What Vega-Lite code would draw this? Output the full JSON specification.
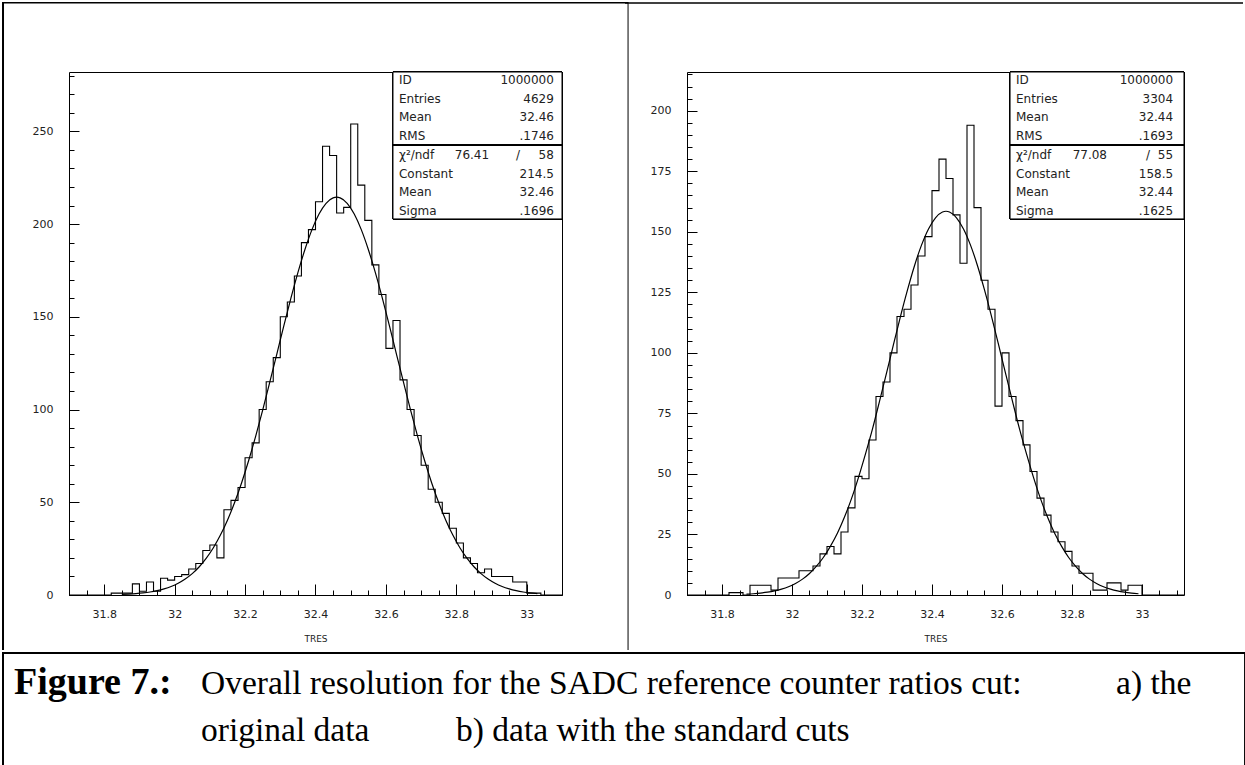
{
  "$schema": "https://vega.github.io/schema/vega-lite/v6.json",
  "background": "white",
  "padding": {"left": 1, "top": 0, "right": 0, "bottom": 0},
  "autosize": {"type": "pad"},
  "datasets": {
    "left": [
      {"x": 31.70, "n": 0}, {"x": 31.80, "n": 0}, {"x": 31.82, "n": 1}, {"x": 31.84, "n": 1}, {"x": 31.86, "n": 1},
      {"x": 31.88, "n": 6}, {"x": 31.90, "n": 2}, {"x": 31.92, "n": 7}, {"x": 31.94, "n": 2}, {"x": 31.96, "n": 9},
      {"x": 31.98, "n": 8}, {"x": 32.00, "n": 10}, {"x": 32.02, "n": 11}, {"x": 32.04, "n": 14}, {"x": 32.06, "n": 17},
      {"x": 32.08, "n": 24}, {"x": 32.10, "n": 27}, {"x": 32.12, "n": 20}, {"x": 32.14, "n": 46}, {"x": 32.16, "n": 51},
      {"x": 32.18, "n": 58}, {"x": 32.20, "n": 74}, {"x": 32.22, "n": 82}, {"x": 32.24, "n": 100}, {"x": 32.26, "n": 115},
      {"x": 32.28, "n": 128}, {"x": 32.30, "n": 150}, {"x": 32.32, "n": 158}, {"x": 32.34, "n": 172}, {"x": 32.36, "n": 190},
      {"x": 32.38, "n": 197}, {"x": 32.40, "n": 212}, {"x": 32.42, "n": 242}, {"x": 32.44, "n": 237}, {"x": 32.46, "n": 206},
      {"x": 32.48, "n": 209}, {"x": 32.50, "n": 254}, {"x": 32.52, "n": 221}, {"x": 32.54, "n": 202}, {"x": 32.56, "n": 178},
      {"x": 32.58, "n": 162}, {"x": 32.60, "n": 133}, {"x": 32.62, "n": 148}, {"x": 32.64, "n": 116}, {"x": 32.66, "n": 100},
      {"x": 32.68, "n": 86}, {"x": 32.70, "n": 70}, {"x": 32.72, "n": 57}, {"x": 32.74, "n": 50}, {"x": 32.76, "n": 44},
      {"x": 32.78, "n": 36}, {"x": 32.80, "n": 28}, {"x": 32.82, "n": 20}, {"x": 32.84, "n": 17}, {"x": 32.86, "n": 12},
      {"x": 32.88, "n": 14}, {"x": 32.90, "n": 10}, {"x": 32.92, "n": 10}, {"x": 32.94, "n": 10}, {"x": 32.96, "n": 7},
      {"x": 32.98, "n": 7}, {"x": 33.00, "n": 1}, {"x": 33.02, "n": 1}, {"x": 33.04, "n": 0}, {"x": 33.10, "n": 0}
    ],
    "right": [
      {"x": 31.70, "n": 0}, {"x": 31.82, "n": 1}, {"x": 31.84, "n": 1}, {"x": 31.86, "n": 0}, {"x": 31.88, "n": 4},
      {"x": 31.90, "n": 4}, {"x": 31.92, "n": 4}, {"x": 31.94, "n": 2}, {"x": 31.96, "n": 7}, {"x": 31.98, "n": 7},
      {"x": 32.00, "n": 7}, {"x": 32.02, "n": 10}, {"x": 32.04, "n": 10}, {"x": 32.06, "n": 12}, {"x": 32.08, "n": 17},
      {"x": 32.10, "n": 20}, {"x": 32.12, "n": 17}, {"x": 32.14, "n": 26}, {"x": 32.16, "n": 36}, {"x": 32.18, "n": 49},
      {"x": 32.20, "n": 48}, {"x": 32.22, "n": 64}, {"x": 32.24, "n": 82}, {"x": 32.26, "n": 88}, {"x": 32.28, "n": 100},
      {"x": 32.30, "n": 115}, {"x": 32.32, "n": 118}, {"x": 32.34, "n": 128}, {"x": 32.36, "n": 140}, {"x": 32.38, "n": 148},
      {"x": 32.40, "n": 167}, {"x": 32.42, "n": 180}, {"x": 32.44, "n": 172}, {"x": 32.46, "n": 157}, {"x": 32.48, "n": 137},
      {"x": 32.50, "n": 194}, {"x": 32.52, "n": 160}, {"x": 32.54, "n": 130}, {"x": 32.56, "n": 118}, {"x": 32.58, "n": 78},
      {"x": 32.60, "n": 100}, {"x": 32.62, "n": 82}, {"x": 32.64, "n": 72}, {"x": 32.66, "n": 62}, {"x": 32.68, "n": 51},
      {"x": 32.70, "n": 40}, {"x": 32.72, "n": 33}, {"x": 32.74, "n": 26}, {"x": 32.76, "n": 22}, {"x": 32.78, "n": 18},
      {"x": 32.80, "n": 12}, {"x": 32.82, "n": 9}, {"x": 32.84, "n": 9}, {"x": 32.86, "n": 2}, {"x": 32.88, "n": 2},
      {"x": 32.90, "n": 5}, {"x": 32.92, "n": 5}, {"x": 32.94, "n": 2}, {"x": 32.96, "n": 4}, {"x": 32.98, "n": 4},
      {"x": 33.00, "n": 0}, {"x": 33.12, "n": 0}
    ],
    "leftfit": [
      {"x": 31.85, "f": 0.33}, {"x": 31.87, "f": 0.51}, {"x": 31.89, "f": 0.76}, {"x": 31.91, "f": 1.12}, {"x": 31.93, "f": 1.62},
      {"x": 31.95, "f": 2.33}, {"x": 31.97, "f": 3.31}, {"x": 31.99, "f": 4.61}, {"x": 32.01, "f": 6.35}, {"x": 32.03, "f": 8.62},
      {"x": 32.05, "f": 11.55}, {"x": 32.07, "f": 15.24}, {"x": 32.09, "f": 19.85}, {"x": 32.11, "f": 25.49}, {"x": 32.13, "f": 32.3},
      {"x": 32.15, "f": 40.35}, {"x": 32.17, "f": 49.72}, {"x": 32.19, "f": 60.42}, {"x": 32.21, "f": 72.4}, {"x": 32.23, "f": 85.56},
      {"x": 32.25, "f": 99.7}, {"x": 32.27, "f": 114.6}, {"x": 32.29, "f": 129.8}, {"x": 32.31, "f": 145.1}, {"x": 32.33, "f": 159.9},
      {"x": 32.35, "f": 173.8}, {"x": 32.37, "f": 186.3}, {"x": 32.39, "f": 197.0}, {"x": 32.41, "f": 205.4}, {"x": 32.43, "f": 211.2},
      {"x": 32.45, "f": 214.1}, {"x": 32.46, "f": 214.5}, {"x": 32.47, "f": 214.1}, {"x": 32.49, "f": 211.2}, {"x": 32.51, "f": 205.4},
      {"x": 32.53, "f": 197.0}, {"x": 32.55, "f": 186.3}, {"x": 32.57, "f": 173.8}, {"x": 32.59, "f": 159.9}, {"x": 32.61, "f": 145.1},
      {"x": 32.63, "f": 129.8}, {"x": 32.65, "f": 114.6}, {"x": 32.67, "f": 99.7}, {"x": 32.69, "f": 85.56}, {"x": 32.71, "f": 72.4},
      {"x": 32.73, "f": 60.42}, {"x": 32.75, "f": 49.72}, {"x": 32.77, "f": 40.35}, {"x": 32.79, "f": 32.3}, {"x": 32.81, "f": 25.49},
      {"x": 32.83, "f": 19.85}, {"x": 32.85, "f": 15.24}, {"x": 32.87, "f": 11.55}, {"x": 32.89, "f": 8.62}, {"x": 32.91, "f": 6.35},
      {"x": 32.93, "f": 4.61}, {"x": 32.95, "f": 3.31}, {"x": 32.97, "f": 2.33}, {"x": 32.99, "f": 1.62}, {"x": 33.01, "f": 1.12},
      {"x": 33.03, "f": 0.76}
    ],
    "rightfit": [
      {"x": 31.87, "f": 0.34}, {"x": 31.89, "f": 0.52}, {"x": 31.91, "f": 0.78}, {"x": 31.93, "f": 1.15}, {"x": 31.95, "f": 1.68},
      {"x": 31.97, "f": 2.42}, {"x": 31.99, "f": 3.42}, {"x": 32.01, "f": 4.78}, {"x": 32.03, "f": 6.56}, {"x": 32.05, "f": 8.9},
      {"x": 32.07, "f": 11.9}, {"x": 32.09, "f": 15.6}, {"x": 32.11, "f": 20.2}, {"x": 32.13, "f": 25.6}, {"x": 32.15, "f": 32.2},
      {"x": 32.17, "f": 39.8}, {"x": 32.19, "f": 48.6}, {"x": 32.21, "f": 58.3}, {"x": 32.23, "f": 68.6}, {"x": 32.25, "f": 80.0},
      {"x": 32.27, "f": 91.6}, {"x": 32.29, "f": 103.5}, {"x": 32.31, "f": 115.1}, {"x": 32.33, "f": 126.0}, {"x": 32.35, "f": 136.0},
      {"x": 32.37, "f": 144.5}, {"x": 32.39, "f": 151.2}, {"x": 32.41, "f": 155.8}, {"x": 32.43, "f": 158.2}, {"x": 32.44, "f": 158.5},
      {"x": 32.45, "f": 158.2}, {"x": 32.47, "f": 155.8}, {"x": 32.49, "f": 151.2}, {"x": 32.51, "f": 144.5}, {"x": 32.53, "f": 136.0},
      {"x": 32.55, "f": 126.0}, {"x": 32.57, "f": 115.1}, {"x": 32.59, "f": 103.5}, {"x": 32.61, "f": 91.6}, {"x": 32.63, "f": 80.0},
      {"x": 32.65, "f": 68.6}, {"x": 32.67, "f": 58.3}, {"x": 32.69, "f": 48.6}, {"x": 32.71, "f": 39.8}, {"x": 32.73, "f": 32.2},
      {"x": 32.75, "f": 25.6}, {"x": 32.77, "f": 20.2}, {"x": 32.79, "f": 15.6}, {"x": 32.81, "f": 11.9}, {"x": 32.83, "f": 8.9},
      {"x": 32.85, "f": 6.56}, {"x": 32.87, "f": 4.78}, {"x": 32.89, "f": 3.42}, {"x": 32.91, "f": 2.42}, {"x": 32.93, "f": 1.68},
      {"x": 32.95, "f": 1.15}, {"x": 32.97, "f": 0.78}, {"x": 32.99, "f": 0.52}
    ],
    "leftstats": [
      {"row": 0, "label": "ID", "value": "1000000"},
      {"row": 1, "label": "Entries", "value": "4629"},
      {"row": 2, "label": "Mean", "value": "32.46"},
      {"row": 3, "label": "RMS", "value": ".1746"},
      {"row": 4, "label": "χ²/ndf", "value": "58"},
      {"row": 5, "label": "Constant", "value": "214.5"},
      {"row": 6, "label": "Mean", "value": "32.46"},
      {"row": 7, "label": "Sigma", "value": ".1696"}
    ],
    "rightstats": [
      {"row": 0, "label": "ID", "value": "1000000"},
      {"row": 1, "label": "Entries", "value": "3304"},
      {"row": 2, "label": "Mean", "value": "32.44"},
      {"row": 3, "label": "RMS", "value": ".1693"},
      {"row": 4, "label": "χ²/ndf", "value": "55"},
      {"row": 5, "label": "Constant", "value": "158.5"},
      {"row": 6, "label": "Mean", "value": "32.44"},
      {"row": 7, "label": "Sigma", "value": ".1625"}
    ]
  },
  "spacing": 0,
  "vconcat": [
    {
      "spacing": -7,
      "hconcat": [
        {
          "width": 493,
          "height": 523,
          "layer": [
            {
              "data": {"name": "left"},
              "mark": {"type": "line", "interpolate": "step-after", "color": "black", "strokeWidth": 1.1},
              "encoding": {
                "x": {"field": "x", "type": "quantitative", "scale": {"domain": [31.7, 33.1], "nice": false, "zero": false},
                  "axis": {"orient": "bottom", "values": [31.8, 32, 32.2, 32.4, 32.6, 32.8, 33], "tickSize": -11, "labelPadding": 24, "labelExpr": "'' + datum.value", "title": "TRES", "titleFontSize": 9, "titlePadding": 13, "minExtent": 26, "maxExtent": 26}},
                "y": {"field": "n", "type": "quantitative", "scale": {"domain": [0, 282], "nice": false},
                  "axis": {"orient": "left", "values": [0, 50, 100, 150, 200, 250], "tickSize": -10, "labelPadding": 26, "title": null, "minExtent": 66, "maxExtent": 66}}
              }
            },
            {
              "data": {"name": "leftfit"},
              "mark": {"type": "line", "interpolate": "monotone", "color": "black", "strokeWidth": 1.2},
              "encoding": {
                "x": {"field": "x", "type": "quantitative",
                  "axis": {"orient": "bottom", "values": [31.7, 31.75, 31.8, 31.85, 31.9, 31.95, 32, 32.05, 32.1, 32.15, 32.2, 32.25, 32.3, 32.35, 32.4, 32.45, 32.5, 32.55, 32.6, 32.65, 32.7, 32.75, 32.8, 32.85, 32.9, 32.95, 33, 33.05, 33.1], "tickSize": -5, "labels": false, "title": null}},
                "y": {"field": "f", "type": "quantitative", "scale": {"domain": [0, 282], "nice": false},
                  "axis": {"orient": "left", "values": [0, 10, 20, 30, 40, 50, 60, 70, 80, 90, 100, 110, 120, 130, 140, 150, 160, 170, 180, 190, 200, 210, 220, 230, 240, 250, 260, 270, 280], "tickSize": -5, "labels": false, "title": null}}
              }
            },
            {
              "data": {"values": [{}]},
              "layer": [
                {
                  "mark": {"type": "rule", "color": "black", "strokeWidth": 2},
                  "encoding": {
                    "x": {"datum": 31.5126, "type": "quantitative", "axis": null},
                    "y": {"datum": -29.66, "type": "quantitative", "scale": {"domain": [0, 282], "nice": false, "zero": false}, "axis": null},
                    "y2": {"datum": 319.7}
                  }
                },
                {
                  "mark": {"type": "rule", "color": "black", "strokeWidth": 1},
                  "encoding": {
                    "x": {"datum": 33.2876, "type": "quantitative", "axis": null},
                    "y": {"datum": -29.66, "type": "quantitative", "axis": null},
                    "y2": {"datum": 319.7}
                  }
                },
                {
                  "mark": {"type": "rule", "color": "black", "strokeWidth": 1.5},
                  "encoding": {
                    "x": {"datum": 31.5126, "type": "quantitative", "axis": null},
                    "x2": {"datum": 33.2876},
                    "y": {"datum": 319.4, "type": "quantitative", "axis": null}
                  }
                }
              ]
            },
            {
              "data": {"name": "leftstats"},
              "layer": [
                {
                  "mark": {"type": "rect", "fill": "white", "stroke": "black", "strokeWidth": 1},
                  "encoding": {
                    "x": {"datum": 32.62, "type": "quantitative", "axis": null},
                    "x2": {"datum": 33.1},
                    "y": {"datum": -0.428, "type": "quantitative", "axis": null},
                    "y2": {"datum": 7.43}
                  }
                },
                {
                  "mark": {"type": "rule", "color": "black", "strokeWidth": 1},
                  "encoding": {
                    "x": {"datum": 32.62, "type": "quantitative", "axis": null},
                    "x2": {"datum": 33.1},
                    "y": {"datum": 3.48, "type": "quantitative", "axis": null}
                  }
                },
                {
                  "mark": {"type": "text", "align": "left", "baseline": "middle", "font": "DejaVu Sans", "fontSize": 12, "color": "#222"},
                  "encoding": {
                    "x": {"datum": 32.637, "type": "quantitative", "axis": null},
                    "y": {"field": "row", "type": "quantitative", "scale": {"domain": [-0.428, 27.54], "reverse": true, "nice": false, "zero": false}, "axis": null},
                    "text": {"field": "label"}
                  }
                },
                {
                  "mark": {"type": "text", "align": "right", "baseline": "middle", "font": "DejaVu Sans", "fontSize": 12, "color": "#222"},
                  "encoding": {
                    "x": {"datum": 33.077, "type": "quantitative", "axis": null},
                    "y": {"field": "row", "type": "quantitative", "axis": null},
                    "text": {"field": "value"}
                  }
                },
                {
                  "transform": [{"filter": "datum.row == 4"}],
                  "mark": {"type": "text", "align": "right", "baseline": "middle", "font": "DejaVu Sans", "fontSize": 12, "color": "#222"},
                  "encoding": {
                    "x": {"datum": 32.893, "type": "quantitative", "axis": null},
                    "y": {"field": "row", "type": "quantitative", "axis": null},
                    "text": {"value": "76.41"}
                  }
                },
                {
                  "transform": [{"filter": "datum.row == 4"}],
                  "mark": {"type": "text", "align": "center", "baseline": "middle", "font": "DejaVu Sans", "fontSize": 12, "color": "#222"},
                  "encoding": {
                    "x": {"datum": 32.975, "type": "quantitative", "axis": null},
                    "y": {"field": "row", "type": "quantitative", "axis": null},
                    "text": {"value": "/"}
                  }
                }
              ]
            }
          ],
          "resolve": {"scale": {"y": "independent"}, "axis": {"x": "independent", "y": "independent"}}
        },
        {
          "width": 497,
          "height": 523,
          "layer": [
            {
              "data": {"name": "right"},
              "mark": {"type": "line", "interpolate": "step-after", "color": "black", "strokeWidth": 1.1},
              "encoding": {
                "x": {"field": "x", "type": "quantitative", "scale": {"domain": [31.7, 33.12], "nice": false, "zero": false},
                  "axis": {"orient": "bottom", "values": [31.8, 32, 32.2, 32.4, 32.6, 32.8, 33], "tickSize": -11, "labelPadding": 24, "labelExpr": "'' + datum.value", "title": "TRES", "titleFontSize": 9, "titlePadding": 13, "minExtent": 26, "maxExtent": 26}},
                "y": {"field": "n", "type": "quantitative", "scale": {"domain": [0, 216], "nice": false},
                  "axis": {"orient": "left", "values": [0, 25, 50, 75, 100, 125, 150, 175, 200], "tickSize": -10, "labelPadding": 26, "title": null, "minExtent": 40, "maxExtent": 40}}
              }
            },
            {
              "data": {"name": "rightfit"},
              "mark": {"type": "line", "interpolate": "monotone", "color": "black", "strokeWidth": 1.2},
              "encoding": {
                "x": {"field": "x", "type": "quantitative",
                  "axis": {"orient": "bottom", "values": [31.7, 31.75, 31.8, 31.85, 31.9, 31.95, 32, 32.05, 32.1, 32.15, 32.2, 32.25, 32.3, 32.35, 32.4, 32.45, 32.5, 32.55, 32.6, 32.65, 32.7, 32.75, 32.8, 32.85, 32.9, 32.95, 33, 33.05, 33.1], "tickSize": -5, "labels": false, "title": null}},
                "y": {"field": "f", "type": "quantitative", "scale": {"domain": [0, 216], "nice": false},
                  "axis": {"orient": "left", "values": [0, 5, 10, 15, 20, 25, 30, 35, 40, 45, 50, 55, 60, 65, 70, 75, 80, 85, 90, 95, 100, 105, 110, 115, 120, 125, 130, 135, 140, 145, 150, 155, 160, 165, 170, 175, 180, 185, 190, 195, 200, 205, 210, 215], "tickSize": -5, "labels": false, "title": null}}
              }
            },
            {
              "data": {"values": [{}]},
              "mark": {"type": "rule", "color": "black", "strokeWidth": 1.5},
              "encoding": {
                "x": {"datum": 31.5229, "type": "quantitative", "axis": null},
                "x2": {"datum": 33.2886},
                "y": {"datum": 244.5, "type": "quantitative", "scale": {"domain": [0, 216], "nice": false, "zero": false}, "axis": null}
              }
            },
            {
              "data": {"name": "rightstats"},
              "layer": [
                {
                  "mark": {"type": "rect", "fill": "white", "stroke": "black", "strokeWidth": 1},
                  "encoding": {
                    "x": {"datum": 32.623, "type": "quantitative", "axis": null},
                    "x2": {"datum": 33.12},
                    "y": {"datum": -0.428, "type": "quantitative", "axis": null},
                    "y2": {"datum": 7.43}
                  }
                },
                {
                  "mark": {"type": "rule", "color": "black", "strokeWidth": 1},
                  "encoding": {
                    "x": {"datum": 32.623, "type": "quantitative", "axis": null},
                    "x2": {"datum": 33.12},
                    "y": {"datum": 3.48, "type": "quantitative", "axis": null}
                  }
                },
                {
                  "mark": {"type": "text", "align": "left", "baseline": "middle", "font": "DejaVu Sans", "fontSize": 12, "color": "#222"},
                  "encoding": {
                    "x": {"datum": 32.64, "type": "quantitative", "axis": null},
                    "y": {"field": "row", "type": "quantitative", "scale": {"domain": [-0.428, 27.54], "reverse": true, "nice": false, "zero": false}, "axis": null},
                    "text": {"field": "label"}
                  }
                },
                {
                  "mark": {"type": "text", "align": "right", "baseline": "middle", "font": "DejaVu Sans", "fontSize": 12, "color": "#222"},
                  "encoding": {
                    "x": {"datum": 33.089, "type": "quantitative", "axis": null},
                    "y": {"field": "row", "type": "quantitative", "axis": null},
                    "text": {"field": "value"}
                  }
                },
                {
                  "transform": [{"filter": "datum.row == 4"}],
                  "mark": {"type": "text", "align": "right", "baseline": "middle", "font": "DejaVu Sans", "fontSize": 12, "color": "#222"},
                  "encoding": {
                    "x": {"datum": 32.9, "type": "quantitative", "axis": null},
                    "y": {"field": "row", "type": "quantitative", "axis": null},
                    "text": {"value": "77.08"}
                  }
                },
                {
                  "transform": [{"filter": "datum.row == 4"}],
                  "mark": {"type": "text", "align": "center", "baseline": "middle", "font": "DejaVu Sans", "fontSize": 12, "color": "#222"},
                  "encoding": {
                    "x": {"datum": 33.017, "type": "quantitative", "axis": null},
                    "y": {"field": "row", "type": "quantitative", "axis": null},
                    "text": {"value": "/"}
                  }
                }
              ]
            }
          ],
          "resolve": {"scale": {"y": "independent"}, "axis": {"x": "independent", "y": "independent"}}
        }
      ]
    },
    {
      "width": 1175,
      "height": 113,
      "view": {"stroke": null},
      "data": {"values": [{}]},
      "layer": [
        {
          "mark": {"type": "rect", "fill": "white", "fillOpacity": 0, "stroke": "black", "strokeWidth": 2},
          "encoding": {
            "x": {"datum": -0.05617, "type": "quantitative", "scale": {"domain": [0, 1], "nice": false, "zero": false}, "axis": null},
            "x2": {"datum": 1.0009},
            "y": {"datum": 0.128, "type": "quantitative", "scale": {"domain": [0.128, 2.532], "reverse": true, "nice": false, "zero": false}, "axis": null},
            "y2": {"datum": 2.532}
          }
        },
        {
          "mark": {"type": "text", "align": "left", "baseline": "alphabetic", "font": "Liberation Serif", "fontSize": 38, "fontWeight": "bold", "color": "black"},
          "encoding": {
            "x": {"datum": -0.04681, "type": "quantitative"},
            "y": {"datum": 1, "type": "quantitative"},
            "text": {"value": "Figure 7.:"}
          }
        },
        {
          "mark": {"type": "text", "align": "left", "baseline": "alphabetic", "font": "Liberation Serif", "fontSize": 33.5, "color": "black"},
          "encoding": {
            "x": {"datum": 0.11234, "type": "quantitative"},
            "y": {"datum": 1, "type": "quantitative"},
            "text": {"value": "Overall resolution for the SADC reference counter ratios cut:"}
          }
        },
        {
          "mark": {"type": "text", "align": "left", "baseline": "alphabetic", "font": "Liberation Serif", "fontSize": 33.5, "color": "black"},
          "encoding": {
            "x": {"datum": 0.8911, "type": "quantitative"},
            "y": {"datum": 1, "type": "quantitative"},
            "text": {"value": "a) the"}
          }
        },
        {
          "mark": {"type": "text", "align": "left", "baseline": "alphabetic", "font": "Liberation Serif", "fontSize": 33.5, "color": "black"},
          "encoding": {
            "x": {"datum": 0.11234, "type": "quantitative"},
            "y": {"datum": 2, "type": "quantitative"},
            "text": {"value": "original data"}
          }
        },
        {
          "mark": {"type": "text", "align": "left", "baseline": "alphabetic", "font": "Liberation Serif", "fontSize": 33.5, "color": "black"},
          "encoding": {
            "x": {"datum": 0.32936, "type": "quantitative"},
            "y": {"datum": 2, "type": "quantitative"},
            "text": {"value": "b) data with the standard cuts"}
          }
        }
      ]
    }
  ],
  "config": {
    "view": {"stroke": "black", "strokeWidth": 1},
    "axis": {
      "grid": false, "domain": false, "tickColor": "black", "tickWidth": 1,
      "labelFont": "DejaVu Sans", "labelFontSize": 11, "labelColor": "#222",
      "titleFont": "DejaVu Sans", "titleFontWeight": "normal", "titleColor": "#222",
      "labelFlush": false, "labelOverlap": false
    }
  }
}
